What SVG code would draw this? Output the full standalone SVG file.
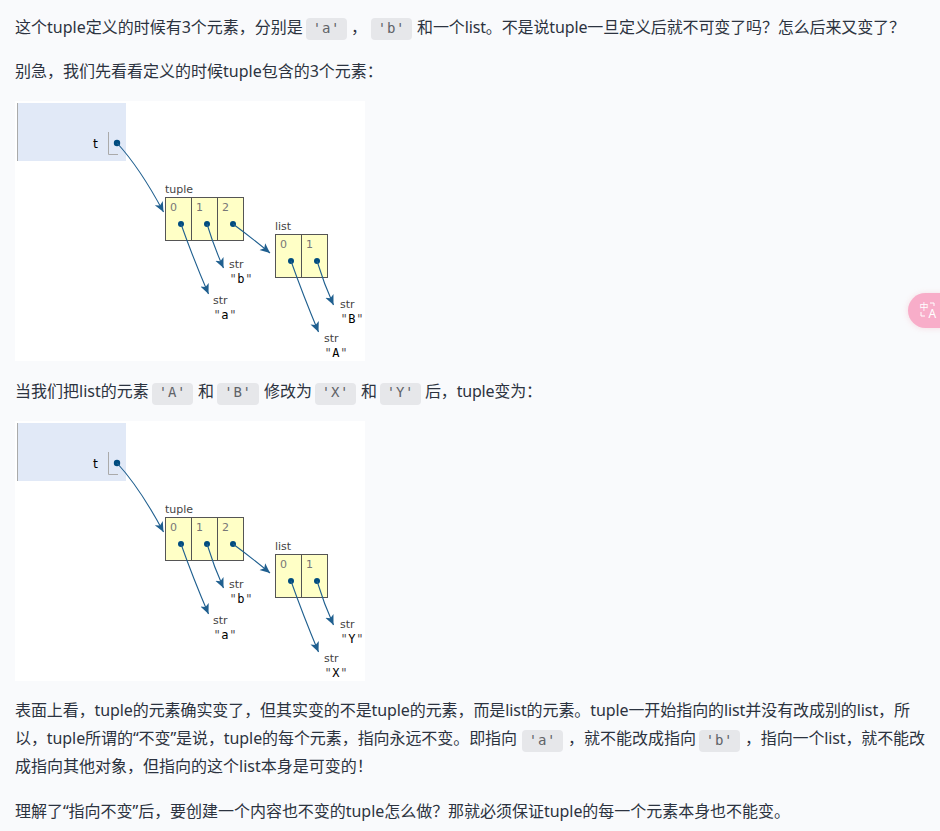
<svg xmlns="http://www.w3.org/2000/svg" width="940" height="831" viewBox="0 0 940 831">
<style>
.p{font:16px "Noto Sans","Noto Sans CJK SC",sans-serif;fill:#2c3340}
.chip{fill:#e6e7ea}
.c{font:14px "DejaVu Sans Mono",monospace;fill:#5f6368;text-anchor:middle;letter-spacing:.8px}
.cell{fill:#ffffc6;stroke:#555;stroke-width:1}
.lb{font:11px "DejaVu Sans",sans-serif;fill:#444}
.ix{font:11px "DejaVu Sans",sans-serif;fill:#777}
.v{font:12px "DejaVu Sans Mono",monospace;fill:#000;letter-spacing:.6px}
.q{fill:#555}
.d{fill:#004c7f}
.a{fill:none;stroke:#1f5f8f;stroke-width:1.1;marker-end:url(#h)}
</style>
<defs>
<marker id="h" markerUnits="userSpaceOnUse" markerWidth="12" markerHeight="12" refX="10" refY="5" orient="auto">
<path d="M0 .5L10 5L0 9.500L2.500 5Z" fill="#1f5f8f"/>
</marker>
<filter id="sh" x="-30%" y="-30%" width="160%" height="160%"><feGaussianBlur stdDeviation="3"/></filter>
</defs>
<rect width="940" height="831" fill="#f9fafc"/>

<g id="para1">
<text class="p" x="15" y="33">这个tuple定义的时候有3个元素，分别是</text>
<rect class="chip" x="306" y="18" width="41" height="22" rx="4"/><text class="c" x="326.500" y="33" font-style="italic">'a'</text>
<text class="p" x="351" y="33">，</text>
<rect class="chip" x="371" y="18" width="41" height="22" rx="4"/><text class="c" x="391.500" y="33">'b'</text>
<text class="p" x="417" y="33" textLength="488">和一个list。不是说tuple一旦定义后就不可变了吗？怎么后来又变了？</text>
</g>
<text id="para2" class="p" x="15" y="77">别急，我们先看看定义的时候tuple包含的3个元素：</text>

<g id="diagram1">
<rect x="15" y="101" width="350" height="260" fill="#fff"/>
<g id="frame1"><rect x="17" y="103" width="109" height="58" fill="#e1e9f7"/><path d="M17.500 103V161" stroke="#aaa" fill="none"/>
<text x="93" y="148" font-family="DejaVu Sans" font-size="12.500" fill="#000">t</text>
<path d="M108.500 132V154.500H118" stroke="#aaa" fill="none"/><circle class="d" cx="117" cy="143" r="3.200"/></g>
<g id="tuple1"><text class="lb" x="165" y="193">tuple</text>
<rect class="cell" x="165.500" y="197.500" width="26" height="43"/><rect class="cell" x="191.500" y="197.500" width="26" height="43"/><rect class="cell" x="217.500" y="197.500" width="26" height="43"/>
<text class="ix" x="170" y="211">0</text><text class="ix" x="196" y="211">1</text><text class="ix" x="222" y="211">2</text>
<circle class="d" cx="181" cy="224" r="3"/><circle class="d" cx="207" cy="224" r="3"/><circle class="d" cx="233" cy="224" r="3"/></g>
<g id="list1"><text class="lb" x="275" y="230">list</text>
<rect class="cell" x="275.500" y="234.500" width="26" height="43"/><rect class="cell" x="301.500" y="234.500" width="26" height="43"/>
<text class="ix" x="280" y="248">0</text><text class="ix" x="306" y="248">1</text>
<circle class="d" cx="291" cy="261" r="3"/><circle class="d" cx="317" cy="261" r="3"/></g>
<g id="str-a1"><text class="lb" x="213" y="304">str</text><text class="v" x="213.500" y="319"><tspan class="q">"</tspan>a<tspan class="q">"</tspan></text></g>
<g id="str-b1"><text class="lb" x="229" y="268">str</text><text class="v" x="229.500" y="283"><tspan class="q">"</tspan>b<tspan class="q">"</tspan></text></g>
<g id="str-A1"><text class="lb" x="324" y="342">str</text><text class="v" x="324.500" y="357"><tspan class="q">"</tspan>A<tspan class="q">"</tspan></text></g>
<g id="str-B1"><text class="lb" x="340" y="308">str</text><text class="v" x="340.500" y="323"><tspan class="q">"</tspan>B<tspan class="q">"</tspan></text></g>
<g id="connectors1">
<path class="a" d="M117 143Q140 168 163.500 212"/>
<path class="a" d="M181 224Q193 258 208.500 294"/>
<path class="a" d="M207 224Q214 247 223.500 268"/>
<path class="a" d="M233 224Q252 238 270 253"/>
<path class="a" d="M291 261Q303 295 318.500 332"/>
<path class="a" d="M317 261Q324 284 333.500 305"/>
</g>
</g>

<g id="para3">
<text class="p" x="15" y="397">当我们把list的元素</text>
<rect class="chip" x="152" y="383" width="41" height="22" rx="4"/><text class="c" x="172.500" y="397">'A'</text>
<text class="p" x="198" y="397">和</text>
<rect class="chip" x="217" y="383" width="42" height="22" rx="4"/><text class="c" x="238" y="397">'B'</text>
<text class="p" x="264" y="397">修改为</text>
<rect class="chip" x="315" y="383" width="41" height="22" rx="4"/><text class="c" x="335.500" y="397">'X'</text>
<text class="p" x="361" y="397">和</text>
<rect class="chip" x="380" y="383" width="41" height="22" rx="4"/><text class="c" x="400.500" y="397">'Y'</text>
<text class="p" x="425" y="397" textLength="117">后，tuple变为：</text>
</g>

<g id="diagram2" transform="translate(0,320)">
<rect x="15" y="101" width="350" height="260" fill="#fff"/>
<g id="frame2"><rect x="17" y="103" width="109" height="58" fill="#e1e9f7"/><path d="M17.500 103V161" stroke="#aaa" fill="none"/>
<text x="93" y="148" font-family="DejaVu Sans" font-size="12.500" fill="#000">t</text>
<path d="M108.500 132V154.500H118" stroke="#aaa" fill="none"/><circle class="d" cx="117" cy="143" r="3.200"/></g>
<g id="tuple2"><text class="lb" x="165" y="193">tuple</text>
<rect class="cell" x="165.500" y="197.500" width="26" height="43"/><rect class="cell" x="191.500" y="197.500" width="26" height="43"/><rect class="cell" x="217.500" y="197.500" width="26" height="43"/>
<text class="ix" x="170" y="211">0</text><text class="ix" x="196" y="211">1</text><text class="ix" x="222" y="211">2</text>
<circle class="d" cx="181" cy="224" r="3"/><circle class="d" cx="207" cy="224" r="3"/><circle class="d" cx="233" cy="224" r="3"/></g>
<g id="list2"><text class="lb" x="275" y="230">list</text>
<rect class="cell" x="275.500" y="234.500" width="26" height="43"/><rect class="cell" x="301.500" y="234.500" width="26" height="43"/>
<text class="ix" x="280" y="248">0</text><text class="ix" x="306" y="248">1</text>
<circle class="d" cx="291" cy="261" r="3"/><circle class="d" cx="317" cy="261" r="3"/></g>
<g id="str-a2"><text class="lb" x="213" y="304">str</text><text class="v" x="213.500" y="319"><tspan class="q">"</tspan>a<tspan class="q">"</tspan></text></g>
<g id="str-b2"><text class="lb" x="229" y="268">str</text><text class="v" x="229.500" y="283"><tspan class="q">"</tspan>b<tspan class="q">"</tspan></text></g>
<g id="str-X2"><text class="lb" x="324" y="342">str</text><text class="v" x="324.500" y="357"><tspan class="q">"</tspan>X<tspan class="q">"</tspan></text></g>
<g id="str-Y2"><text class="lb" x="340" y="308">str</text><text class="v" x="340.500" y="323"><tspan class="q">"</tspan>Y<tspan class="q">"</tspan></text></g>
<g id="connectors2">
<path class="a" d="M117 143Q140 168 163.500 212"/>
<path class="a" d="M181 224Q193 258 208.500 294"/>
<path class="a" d="M207 224Q214 247 223.500 268"/>
<path class="a" d="M233 224Q252 238 270 253"/>
<path class="a" d="M291 261Q303 295 318.500 332"/>
<path class="a" d="M317 261Q324 284 333.500 305"/>
</g>
</g>

<g id="para4">
<text class="p" x="15" y="716" textLength="895">表面上看，tuple的元素确实变了，但其实变的不是tuple的元素，而是list的元素。tuple一开始指向的list并没有改成别的list，所</text>
<text class="p" x="15" y="744" textLength="502">以，tuple所谓的“不变”是说，tuple的每个元素，指向永远不变。即指向</text>
<rect class="chip" x="522" y="730" width="41" height="22" rx="4"/><text class="c" x="542.500" y="745" font-style="italic">'a'</text>
<text class="p" x="568" y="744">，就不能改成指向</text>
<rect class="chip" x="699" y="730" width="41" height="22" rx="4"/><text class="c" x="719.500" y="745">'b'</text>
<text class="p" x="745" y="744" textLength="180">，指向一个list，就不能改</text>
<text class="p" x="15" y="772">成指向其他对象，但指向的这个list本身是可变的！</text>
</g>
<text id="para5" class="p" x="15" y="817" textLength="775">理解了“指向不变”后，要创建一个内容也不变的tuple怎么做？那就必须保证tuple的每一个元素本身也不能变。</text>

<g id="badge">
<rect x="908" y="294" width="50" height="34" rx="17" fill="#e9a" opacity=".35" filter="url(#sh)"/>
<rect x="908" y="293" width="50" height="35" rx="17.500" fill="#f8adc9"/>
<text x="919.500" y="310" font-family="Noto Sans CJK SC" font-size="9" fill="#fff">中</text>
<text x="928.500" y="318" font-family="Noto Sans" font-size="12" fill="#fff">A</text>
<path d="M921 312v4h4M930 303h4v3" stroke="#fff" stroke-width="1" fill="none"/>
</g>
</svg>
